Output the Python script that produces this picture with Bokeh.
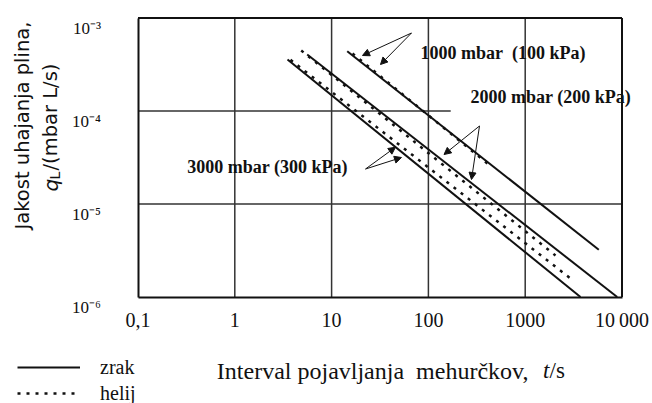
from math import pi
from bokeh.plotting import figure
from bokeh.models import (Range1d, FixedTicker, CustomJSTickFormatter, Label, LabelSet,
                          ColumnDataSource, Arrow, NormalHead, Legend, LegendItem)
from bokeh.embed import file_html
from bokeh.resources import INLINE

# ---------------- data ----------------
x_ticks = [0.1, 1, 10, 100, 1000, 10000]
x_tick_labels = ["0,1", "1", "10", "100", "1000", "10\u2009000"]
y_ticks = [1e-3, 1e-4, 1e-5, 1e-6]
y_tick_labels = ["10\u207b\u00b3", "10\u207b\u2074", "10\u207b\u2075", "10\u207b\u2076"]
x_grid = [1, 10, 100, 1000]
y_grid = [1e-5, 1e-4]
y_grid_end = [10000, 170]

# zrak (air) - solid lines
zrak_1000_t = [14.5, 5758]
zrak_1000_q = [4.395e-4, 3.218e-6]
zrak_2000_t = [5.597, 8920]
zrak_2000_q = [4.050e-4, 1.0e-6]
zrak_3000_t = [3.503, 3726]
zrak_3000_q = [3.579e-4, 1.0e-6]
# helij (helium) - dashed lines
helij_1000_t = [16.44, 438.0]
helij_1000_q = [4.152e-4, 2.563e-5]
helij_2000_t = [4.853, 2056]
helij_2000_q = [4.472e-4, 2.793e-6]
helij_3000_t = [3.762, 3059]
helij_3000_q = [3.552e-4, 1.531e-6]

# annotation labels and arrows
ann_text = ["1000 mbar\u00a0 (100 kPa)", "2000 mbar (200 kPa)", "3000 mbar (300 kPa)"]
ann_t = [82.85, 272.2, 0.3224]
ann_q = [4.256e-4, 1.397e-4, 2.53e-5]
arrow_t0 = [66.9, 66.9, 337.2, 337.2, 22.4, 22.4]
arrow_q0 = [6.90e-4, 6.90e-4, 6.90e-5, 6.90e-5, 2.378e-5, 2.378e-5]
arrow_t1 = [20.85, 32.0, 145.0, 278.7, 45.7, 52.7]
arrow_q1 = [3.951e-4, 3.162e-4, 3.405e-5, 1.834e-5, 4.08e-5, 3.162e-5]

# ---------------- layout (pixels) ----------------
W, H = 652, 403
PLOT_L, PLOT_R, PLOT_T, PLOT_B = 137.5, 621.5, 17.5, 296.5
dec_x = (PLOT_R - PLOT_L) / 5.0
dec_y = (PLOT_B - PLOT_T) / 3.0
x_lo = 10 ** (-1 - PLOT_L / dec_x)
x_hi = 10 ** (4 + (W - PLOT_R) / dec_x)
y_lo = 10 ** (-6 - (H - PLOT_B) / dec_y)
y_hi = 10 ** (-3 + PLOT_T / dec_y)

INK = "#111111"
GRID = "#333333"

p = figure(width=W, height=H, x_axis_type="log", y_axis_type="log",
           x_range=Range1d(x_lo, x_hi), y_range=Range1d(y_lo, y_hi),
           output_backend="svg", toolbar_location=None, min_border=0)
p.background_fill_color = "white"
p.border_fill_color = "white"
p.outline_line_color = None
p.xgrid.visible = False
p.ygrid.visible = False

x0, x1 = x_ticks[0], x_ticks[-1]
y_bot, y_top = y_ticks[-1], y_ticks[0]

# x axis (fixed at the bottom of the chart area)
p.xaxis.fixed_location = y_bot
p.xaxis.bounds = (x0, x1)
p.xaxis.ticker = FixedTicker(ticks=x_ticks, minor_ticks=[])
p.xaxis.formatter = CustomJSTickFormatter(args=dict(labels=x_tick_labels), code="""
    const i = Math.round(Math.log10(tick)) + 1;
    return (i >= 0 && i < labels.length) ? labels[i] : "";
""")
p.xaxis.major_tick_out = 0
p.xaxis.major_tick_in = 0
p.xaxis.minor_tick_out = 0
p.xaxis.minor_tick_in = 0
p.xaxis.axis_line_width = 2
p.xaxis.axis_line_color = INK
p.xaxis.major_label_text_font = "Liberation Serif"
p.xaxis.major_label_text_font_size = "20px"
p.xaxis.major_label_text_color = INK
p.xaxis.major_label_standoff = 12

# y axis (fixed at the left of the chart area; labels drawn as LabelSet)
p.yaxis.fixed_location = x0
p.yaxis.bounds = (y_bot, y_top)
p.yaxis.ticker = FixedTicker(ticks=y_ticks, minor_ticks=[])
p.yaxis.formatter = CustomJSTickFormatter(code="return '';")
p.yaxis.major_tick_out = 0
p.yaxis.major_tick_in = 0
p.yaxis.minor_tick_out = 0
p.yaxis.minor_tick_in = 0
p.yaxis.axis_line_width = 2
p.yaxis.axis_line_color = INK

# grid lines and frame (top / right)
p.segment(x0=x_grid, y0=[y_bot] * len(x_grid), x1=x_grid, y1=[y_top] * len(x_grid),
          line_color=GRID, line_width=1.5)
p.segment(x0=[x0] * len(y_grid), y0=y_grid, x1=y_grid_end, y1=y_grid,
          line_color=GRID, line_width=1.5)
p.segment(x0=[x0, x1], y0=[y_top, y_bot], x1=[x1, x1], y1=[y_top, y_top],
          line_color=INK, line_width=2)

# lines
DASH = "3 6"
r_z1 = p.line(zrak_1000_t, zrak_1000_q, line_color=INK, line_width=2)
p.line(zrak_2000_t, zrak_2000_q, line_color=INK, line_width=2)
p.line(zrak_3000_t, zrak_3000_q, line_color=INK, line_width=2)
r_h1 = p.line(helij_1000_t, helij_1000_q, line_color=INK, line_width=2.5, line_dash=DASH)
p.line(helij_2000_t, helij_2000_q, line_color=INK, line_width=2.5, line_dash=DASH)
p.line(helij_3000_t, helij_3000_q, line_color=INK, line_width=2.5, line_dash=DASH)

# annotation texts
for t, x, y in zip(ann_text, ann_t, ann_q):
    p.add_layout(Label(x=x, y=y, text=t, text_font="Liberation Serif", text_font_style="bold",
                       text_font_size="18px", text_color=INK, text_align="left",
                       text_baseline="middle"))

# arrows
for xs, ys, xe, ye in zip(arrow_t0, arrow_q0, arrow_t1, arrow_q1):
    p.add_layout(Arrow(end=NormalHead(size=7, fill_color=INK, line_color=INK, line_width=1),
                       x_start=xs, y_start=ys, x_end=xe, y_end=ye,
                       line_color=INK, line_width=1))

# y tick labels
ysrc = ColumnDataSource(dict(x=[x0] * len(y_ticks), y=y_ticks, text=y_tick_labels))
p.add_layout(LabelSet(x="x", y="y", text="text", source=ysrc, x_offset=-37, y_offset=-1,
                      text_align="right", text_baseline="top", text_font="DejaVu Sans",
                      text_font_size="17px", text_color=INK))

# y axis title (two rotated lines), offsets from the chart's bottom-left corner
ytfont = "DejaVu Sans"
p.add_layout(Label(x=x0, y=y_bot, x_offset=-115.5, y_offset=171.5, angle=pi / 2,
                   text="Jakost uhajanja plina,", text_font=ytfont, text_font_size="19.5px",
                   text_color=INK, text_align="center", text_baseline="middle"))
p.add_layout(Label(x=x0, y=y_bot, x_offset=-87.5, y_offset=105.5, angle=pi / 2,
                   text="q", text_font=ytfont, text_font_style="italic", text_font_size="20px",
                   text_color=INK, text_align="left", text_baseline="middle"))
p.add_layout(Label(x=x0, y=y_bot, x_offset=-83, y_offset=117.5, angle=pi / 2,
                   text="L", text_font=ytfont, text_font_size="14px",
                   text_color=INK, text_align="left", text_baseline="middle"))
p.add_layout(Label(x=x0, y=y_bot, x_offset=-87.5, y_offset=126.5, angle=pi / 2,
                   text="/(mbar L/s)", text_font=ytfont, text_font_size="19.5px",
                   text_color=INK, text_align="left", text_baseline="middle"))

# x axis title, offsets from the chart's bottom-right corner
p.add_layout(Label(x=x1, y=y_bot, x_offset=-93.5, y_offset=-73.5,
                   text="Interval pojavljanja\u00a0 mehur\u010dkov,", text_font="Liberation Serif",
                   text_font_size="24px", text_color=INK, text_align="right", text_baseline="middle"))
p.add_layout(Label(x=x1, y=y_bot, x_offset=-79, y_offset=-73.5,
                   text="t", text_font="Liberation Serif", text_font_style="italic",
                   text_font_size="23px", text_color=INK, text_align="left", text_baseline="middle"))
p.add_layout(Label(x=x1, y=y_bot, x_offset=-72.5, y_offset=-73.5,
                   text="/s", text_font="Liberation Serif",
                   text_font_size="23px", text_color=INK, text_align="left", text_baseline="middle"))

# legend (bottom-left)
legend = Legend(items=[LegendItem(label="zrak", renderers=[r_z1]),
                       LegendItem(label="helij", renderers=[r_h1])],
                location=(17, -1.5), orientation="vertical",
                glyph_width=63, glyph_height=20, label_height=20, label_standoff=20,
                spacing=3, padding=0, margin=0,
                label_text_font="Liberation Serif", label_text_font_size="20px",
                label_text_color=INK, background_fill_alpha=0, border_line_color=None)
p.add_layout(legend)

open("out.html", "w").write(file_html(p, INLINE))
